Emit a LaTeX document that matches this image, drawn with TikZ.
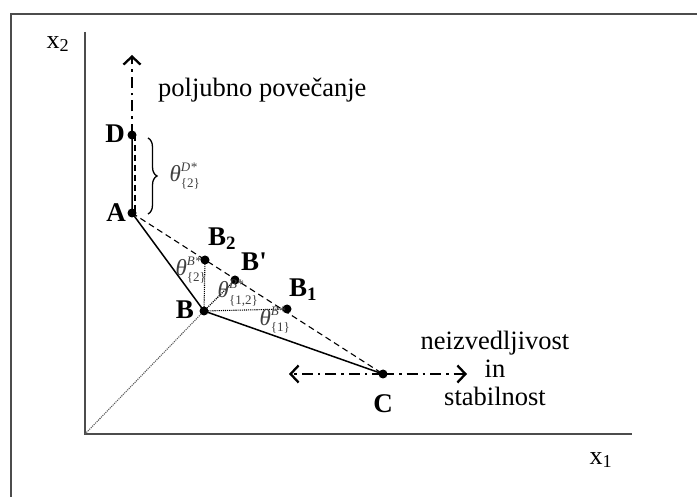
\documentclass[tikz,border=0pt]{standalone}
\usepackage{fontspec}
\setmainfont{Liberation Serif}
\usetikzlibrary{arrows.meta,decorations.pathreplacing}
% theta with a superscript and a subscript, all in the text face
\newcommand{\angsym}[2]{$\hbox{\itshape θ}%
  ^{\hbox{\fontsize{13}{14}\selectfont\itshape #1}}%
  _{\hbox{\fontsize{13}{14}\selectfont #2}}$}
\begin{document}
\begin{tikzpicture}[x=1pt,y=-1pt,
  frameline/.style={draw=black!70,line width=1.8pt},
  axisline/.style={draw=black!70,line width=1.8pt},
  pt/.style={circle,fill=black,inner sep=0pt,minimum size=9pt},
  ptlabel/.style={font=\fontsize{27}{29}\selectfont\bfseries,inner sep=0pt},
  anglabel/.style={font=\fontsize{23}{25}\selectfont,text=black!75,inner sep=0pt},
  bigtext/.style={font=\fontsize{26.5}{28}\selectfont,inner sep=0pt,align=center},
  dashdot/.style={line width=2.3pt,dash pattern=on 11pt off 5pt on 2.5pt off 5pt,
    -{Straight Barb[length=8pt,width=17pt,line width=2.3pt]}},
  dotline/.style={densely dotted,line width=1.1pt},
  dashline/.style={line width=1.1pt,dash pattern=on 6pt off 4pt},
]
\useasboundingbox (0,0) rectangle (697,497);
% outer frame (open at the right and at the bottom)
\draw[frameline] (11,500) -- (11,14) -- (700,14);

% axes
\coordinate (O) at (85,434);
\coordinate (Ytop) at (85,32);
\coordinate (Xend) at (632,434);
\draw[axisline] (Ytop) -- (O) -- (Xend);
\node[font=\fontsize{26}{28}\selectfont] (x2) at (58,44) {x\textsubscript{2}};
\node[font=\fontsize{26}{28}\selectfont] (x1) at (601,460) {x\textsubscript{1}};

% points
\node[pt] (D) at (132,135) {};
\node[pt] (A) at (132,213) {};
\node[pt] (B2) at (205,260) {};
\node[pt] (Bp) at (235,280) {};
\node[pt] (B1) at (287,309) {};
\node[pt] (B) at (204,311) {};
\node[pt] (C) at (383,374) {};
\coordinate (Up) at (132,55);
\coordinate (Left) at (289,374);
\coordinate (Right) at (467,374);

% ray from the origin
\draw[densely dotted,line width=1.1pt,black!65] (O) -- (B);

% segments
\draw[line width=1.5pt] (D.center) -- (A.center) -- (B.center) -- (C.center);
\draw[dashline] ([xshift=3pt]D.center) -- ([xshift=3pt]A.center);
\draw[dashline] (A.center) -- (C.center);
\draw[dotline] (B.center) -- (B2.center);
\draw[dotline] (B.center) -- (Bp.center);
\draw[dotline] (B.center) -- (B1.center);

% directions
\draw[dashdot] (D.center) -- (Up);
\draw[dashdot] (C.center) -- (Left);
\draw[dashdot] (C.center) -- (Right);

% brace between D and A
\draw[decorate,decoration={brace,amplitude=9pt},line width=1.3pt] (148,138) -- (148,214);

% labels
\node[ptlabel] (lD) at (115,134) {D};
\node[ptlabel] (lA) at (116,213) {A};
\node[ptlabel] (lB2) at (222,239) {B\textsubscript{2}};
\node[ptlabel] (lBp) at (254,262) {B\textquotesingle};
\node[ptlabel] (lB1) at (303,290) {B\textsubscript{1}};
\node[ptlabel] (lB) at (185,310) {B};
\node[ptlabel] (lC) at (383,404) {C};

\node[anglabel] (tD) at (185,176) {\angsym{D*}{\{2\}}};
\node[anglabel] (tB2) at (191,270) {\angsym{B*}{\{2\}}};
\node[anglabel] (tB12) at (238,293) {\angsym{B*}{\{1,2\}}};
\node[anglabel] (tB1) at (275,320) {\angsym{B*}{\{1\}}};

\node[bigtext,anchor=west] (inc) at (158,90) {poljubno povečanje};
\node[bigtext] (stab) at (495,368) {neizvedljivost\\in\\stabilnost};
\end{tikzpicture}
\end{document}
